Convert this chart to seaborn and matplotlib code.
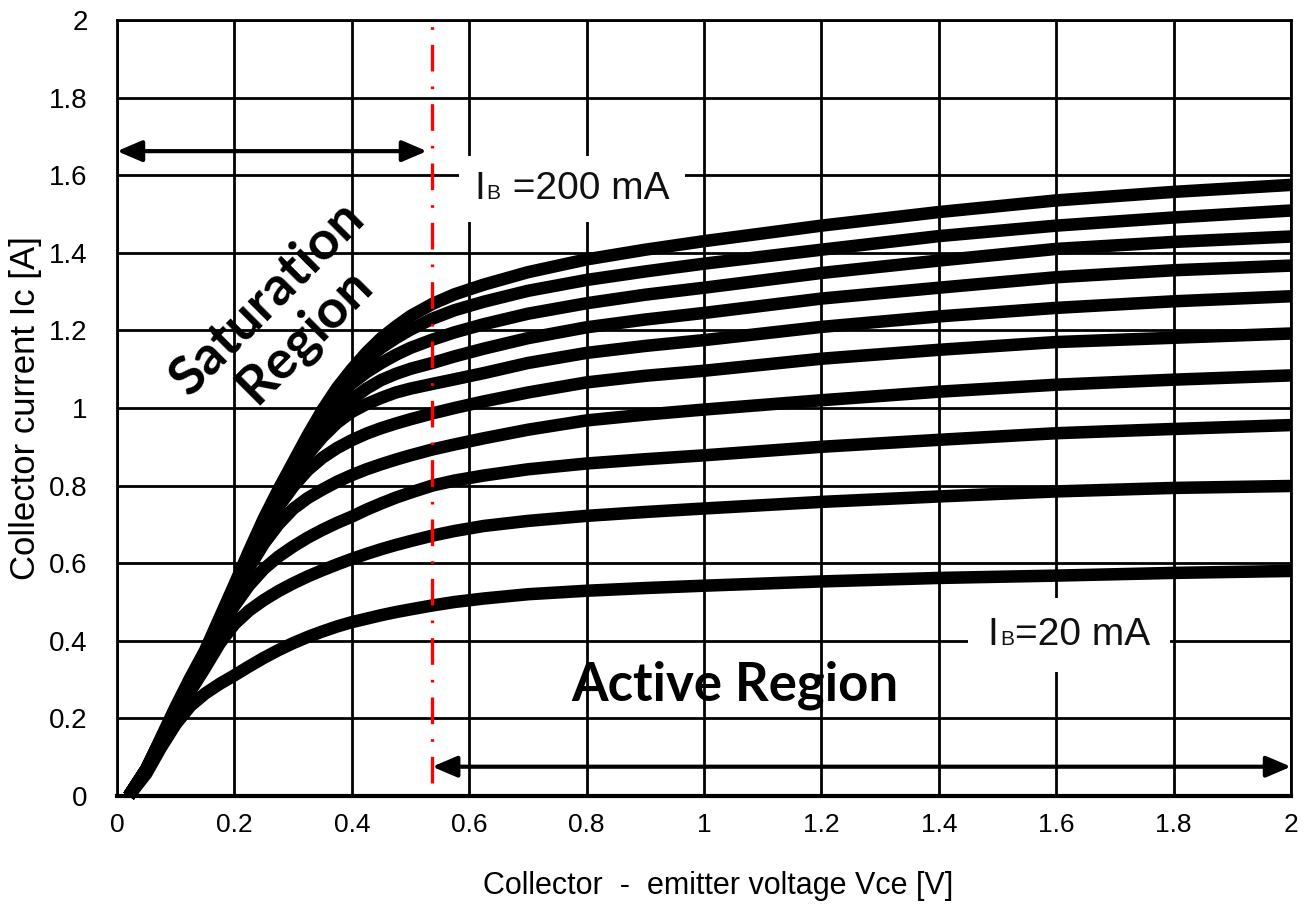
import numpy as np
import pandas as pd
import seaborn as sns
import matplotlib.pyplot as plt
from matplotlib.offsetbox import TextArea, HPacker, AnnotationBbox

# collector-emitter voltage samples [V], shared by all curves
VCE = [0.02, 0.05, 0.075, 0.1, 0.125, 0.15, 0.175, 0.2, 0.225, 0.25, 0.275, 0.3,
       0.325, 0.35, 0.375, 0.4, 0.425, 0.45, 0.475, 0.5, 0.537, 0.575, 0.625, 0.7,
       0.8, 0.9, 1.0, 1.2, 1.4, 1.6, 1.8, 2.0]

# collector current [A] for each base current
IC_20MA = [0.0, 0.058, 0.125, 0.185, 0.232, 0.264, 0.289, 0.311, 0.334, 0.356, 0.376, 0.394,
           0.41, 0.424, 0.437, 0.448, 0.457, 0.466, 0.474, 0.481, 0.491, 0.5, 0.509, 0.52,
           0.529, 0.536, 0.542, 0.553, 0.562, 0.568, 0.575, 0.580]
IC_40MA = [0.0, 0.063, 0.133, 0.2, 0.27, 0.33, 0.393, 0.443, 0.478, 0.505, 0.528, 0.548,
           0.566, 0.582, 0.597, 0.611, 0.624, 0.636, 0.647, 0.657, 0.671, 0.683, 0.696, 0.709,
           0.722, 0.732, 0.741, 0.758, 0.772, 0.785, 0.794, 0.799]
IC_60MA = [0.0, 0.066, 0.138, 0.21, 0.283, 0.35, 0.425, 0.49, 0.543, 0.585, 0.617, 0.643,
           0.666, 0.686, 0.704, 0.72, 0.738, 0.754, 0.769, 0.782, 0.8, 0.813, 0.826, 0.842,
           0.857, 0.868, 0.878, 0.9, 0.918, 0.935, 0.946, 0.956]
IC_80MA = [0.0, 0.067, 0.14, 0.215, 0.29, 0.358, 0.438, 0.515, 0.588, 0.65, 0.70, 0.74,
           0.768, 0.79, 0.81, 0.827, 0.842, 0.855, 0.867, 0.878, 0.893, 0.906, 0.922, 0.944,
           0.968, 0.983, 0.996, 1.02, 1.042, 1.06, 1.073, 1.084]
IC_100MA = [0.0, 0.068, 0.143, 0.22, 0.294, 0.362, 0.443, 0.525, 0.605, 0.68, 0.745, 0.797,
            0.84, 0.872, 0.897, 0.917, 0.934, 0.948, 0.96, 0.971, 0.986, 1.0, 1.017, 1.04,
            1.066, 1.083, 1.096, 1.127, 1.15, 1.17, 1.181, 1.192]
IC_120MA = [0.0, 0.07, 0.145, 0.222, 0.297, 0.366, 0.447, 0.53, 0.613, 0.693, 0.765, 0.828,
            0.88, 0.925, 0.962, 0.99, 1.01, 1.026, 1.04, 1.05, 1.062, 1.074, 1.09, 1.116,
            1.142, 1.16, 1.175, 1.209, 1.236, 1.258, 1.275, 1.288]
IC_140MA = [0.0, 0.07, 0.146, 0.223, 0.298, 0.368, 0.45, 0.533, 0.618, 0.7, 0.775, 0.843,
            0.905, 0.955, 0.993, 1.022, 1.05, 1.072, 1.088, 1.101, 1.116, 1.133, 1.153, 1.18,
            1.208, 1.228, 1.245, 1.282, 1.31, 1.337, 1.355, 1.367]
IC_160MA = [0.0, 0.07, 0.147, 0.225, 0.3, 0.37, 0.453, 0.537, 0.623, 0.705, 0.78, 0.85,
            0.917, 0.978, 1.028, 1.063, 1.092, 1.116, 1.137, 1.155, 1.176, 1.195, 1.216, 1.243,
            1.27, 1.292, 1.31, 1.348, 1.38, 1.41, 1.428, 1.442]
IC_180MA = [0.0, 0.07, 0.148, 0.227, 0.302, 0.372, 0.456, 0.54, 0.627, 0.71, 0.785, 0.855,
            0.924, 0.988, 1.043, 1.088, 1.125, 1.155, 1.18, 1.202, 1.23, 1.252, 1.274, 1.302,
            1.33, 1.352, 1.372, 1.408, 1.443, 1.47, 1.491, 1.509]
IC_200MA = [0.0, 0.07, 0.15, 0.23, 0.305, 0.375, 0.46, 0.545, 0.632, 0.715, 0.79, 0.86,
            0.93, 0.995, 1.052, 1.10, 1.143, 1.18, 1.21, 1.237, 1.268, 1.293, 1.318, 1.35,
            1.383, 1.408, 1.43, 1.47, 1.505, 1.535, 1.557, 1.575]

IB_MA = [20, 40, 60, 80, 100, 120, 140, 160, 180, 200]
CURVES = [IC_20MA, IC_40MA, IC_60MA, IC_80MA, IC_100MA,
          IC_120MA, IC_140MA, IC_160MA, IC_180MA, IC_200MA]

TICKS = [0, 0.2, 0.4, 0.6, 0.8, 1, 1.2, 1.4, 1.6, 1.8, 2]

# region boundary and annotation spans (data units)
VCE_EDGE = 0.537
SAT_SPAN = (0.0, 0.528, 1.662)
ACT_SPAN = (VCE_EDGE, 2.0, 0.0755)
LABEL_HI = ('200', 0.775, 1.564)
LABEL_LO = ('20', 1.622, 0.415)

df = pd.DataFrame({
    'vce': VCE * len(CURVES),
    'ic': [v for c in CURVES for v in c],
    'ib': np.repeat(IB_MA, len(VCE)),
})

sns.set_theme(style='white')
plt.rcParams['font.family'] = ['Liberation Sans', 'DejaVu Sans']
for key in ['text.color', 'axes.labelcolor', 'xtick.color', 'ytick.color']:
    plt.rcParams[key] = 'black'
bold_font = ['Lato', 'Open Sans', 'DejaVu Sans']

fig = plt.figure(figsize=(13.05, 9.15), dpi=100)
ax = fig.add_axes([117 / 1305, 1 - 796 / 915, 1174 / 1305, 776 / 915])

sns.lineplot(data=df, x='vce', y='ic', hue='ib', palette={k: 'black' for k in IB_MA},
             estimator=None, legend=False, lw=9, ax=ax,
             solid_capstyle='butt', solid_joinstyle='round', clip_on=False, zorder=3)

ax.set_xlim(0, 2)
ax.set_ylim(0, 2)
ax.set_xticks(TICKS)
ax.set_yticks(TICKS)
ax.set_xticklabels([f'{t:g}' for t in TICKS], fontsize=19)
ax.set_yticklabels([f'{t:g}' for t in TICKS], fontsize=20)
ax.tick_params(length=0)
ax.tick_params(axis='y', pad=21)
ax.tick_params(axis='x', pad=12)
ax.grid(True, color='black', lw=2)
ax.set_axisbelow(True)
for side in ['left', 'right', 'top']:
    ax.spines[side].set_color('black')
    ax.spines[side].set_linewidth(2)
ax.spines['bottom'].set_color('black')
ax.spines['bottom'].set_linewidth(3)

ax.set_xlabel('Collector  -  emitter voltage Vce [V]', fontsize=22)
ax.xaxis.set_label_coords(0.512, -0.097)
ax.set_ylabel('Collector current Ic [A]', fontsize=25)
ax.yaxis.set_label_coords(-0.064, 0.5)

# saturation / active boundary
ax.axvline(VCE_EDGE, ymin=0.0165, ymax=1.0, color='red', lw=2.4,
           dashes=(8, 4.5, 0.8, 4.5), dash_capstyle='butt', zorder=4)

arrow = dict(arrowstyle='<|-|>,head_length=0.75,head_width=0.32', mutation_scale=20,
             lw=3, color='black', shrinkA=0, shrinkB=0)
ax.annotate('', xy=(SAT_SPAN[1], SAT_SPAN[2]), xytext=(SAT_SPAN[0], SAT_SPAN[2]),
            arrowprops=arrow)
ax.annotate('', xy=(ACT_SPAN[1], ACT_SPAN[2]), xytext=(ACT_SPAN[0], ACT_SPAN[2]),
            arrowprops=arrow)

ax.text(0.288, 1.235, 'Saturation\nRegion', rotation=45, rotation_mode='anchor',
        ha='center', va='center', multialignment='center', linespacing=1.05,
        fontsize=39, fontweight='bold', family=bold_font, zorder=5)
ax.text(1.052, 0.247, 'Active Region', ha='center', va='baseline',
        fontsize=38, fontweight='bold', family=bold_font, zorder=5)


def ib_label(value, x, y, pad, space):
    props = dict(size=28, family='Liberation Sans', color='#111111')
    parts = [TextArea('I', textprops=props),
             TextArea('B', textprops=dict(props, size=15)),
             TextArea(f'{space}={value} mA', textprops=props)]
    box = HPacker(children=parts, align='baseline', pad=0, sep=1)
    ab = AnnotationBbox(box, (x, y), xycoords='data', frameon=True, pad=pad, fontsize=10,
                        bboxprops=dict(fc='white', ec='none'))
    ab.set_zorder(2)
    ax.add_artist(ab)


ib_label(LABEL_HI[0], LABEL_HI[1], LABEL_HI[2], 1.1, ' ')
ib_label(LABEL_LO[0], LABEL_LO[1], LABEL_LO[2], 1.4, '')

fig.savefig('out.png', dpi=100)
plt.close(fig)
